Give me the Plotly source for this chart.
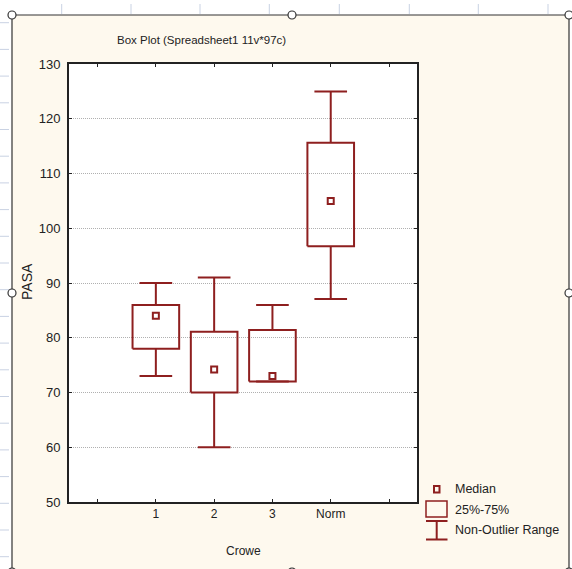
import plotly.graph_objects as go

# ---- data ----
categories = ["1", "2", "3", "Norm"]
q1 = [78.0, 70.0, 72.0, 96.7]
medians = [84.0, 74.2, 73.0, 105.0]
q3 = [86.0, 81.1, 81.4, 115.6]
lower = [73.0, 60.0, 72.0, 87.1]
upper = [90.0, 91.0, 86.0, 125.0]

tick_positions = [0, 1, 2, 3, 4, 5]
tick_labels = [""] + categories + [""]
y_ticks = [50, 60, 70, 80, 90, 100, 110, 120, 130]

# ---- style / layout constants ----
W, H = 572, 569
L, R, T, B = 69, 155, 64, 67
PW, PH = W - L - R, H - T - B
RED = "#8E1F1F"
CREAM = "#FEF9EE"
FONT = "Liberation Sans, Arial, sans-serif"
BOXW = 0.4
CAPW = 0.28


def px(x):
    return (x - L) / PW


def py(y):
    return (H - B - y) / PH


fig = go.Figure()

# boxes
bx, by = [], []
for i, _ in enumerate(categories):
    c = i + 1
    bx += [c - BOXW, c + BOXW, c + BOXW, c - BOXW, c - BOXW, None]
    by += [q1[i], q1[i], q3[i], q3[i], q1[i], None]
fig.add_trace(go.Scatter(x=bx, y=by, mode="lines", line=dict(color=RED, width=2),
                         hoverinfo="skip", showlegend=False))

# whiskers and caps
wx, wy = [], []
for i, _ in enumerate(categories):
    c = i + 1
    wx += [c, c, None, c, c, None,
           c - CAPW, c + CAPW, None, c - CAPW, c + CAPW, None]
    wy += [q3[i], upper[i], None, q1[i], lower[i], None,
           upper[i], upper[i], None, lower[i], lower[i], None]
fig.add_trace(go.Scatter(x=wx, y=wy, mode="lines", line=dict(color=RED, width=2),
                         hoverinfo="skip", showlegend=False))

# medians
fig.add_trace(go.Scatter(x=[i + 1 for i in range(len(categories))], y=medians,
                         mode="markers",
                         marker=dict(symbol="square-open", size=6, color=RED,
                                     line=dict(width=2, color=RED)),
                         showlegend=False))

shapes = []
# cream panel with frame
shapes.append(dict(type="rect", xref="paper", yref="paper", layer="below",
                   x0=px(12), x1=px(569), y0=py(15), y1=py(575),
                   fillcolor=CREAM, line=dict(color="#333333", width=1.2)))
# white plotting area
shapes.append(dict(type="rect", xref="paper", yref="paper", layer="below",
                   x0=0, x1=1, y0=0, y1=1, fillcolor="white", line=dict(width=0)))
# background spreadsheet marks (decorative)
k = 0
while 22.7 + 26.7 * k < H:
    yy = 22.7 + 26.7 * k
    shapes.append(dict(type="line", xref="paper", yref="paper",
                       x0=px(0), x1=px(9), y0=py(yy), y1=py(yy),
                       line=dict(color="#C9D2E3", width=1)))
    k += 1
for xx in [61.7, 131, 200, 269.3, 339.3, 409.3, 478.3, 548]:
    shapes.append(dict(type="line", xref="paper", yref="paper",
                       x0=px(xx), x1=px(xx), y0=py(4), y1=py(14),
                       line=dict(color="#C9D2E3", width=1)))
# handles
for hx, hy in [(12, 15), (292, 15), (569, 15), (12, 293), (569, 293),
               (12, 572), (292, 572), (569, 572)]:
    shapes.append(dict(type="circle", xref="paper", yref="paper",
                       x0=px(hx - 4), x1=px(hx + 4), y0=py(hy - 4), y1=py(hy + 4),
                       fillcolor="white", line=dict(color="#333333", width=1.2)))

# custom legend symbols
shapes.append(dict(type="rect", xref="paper", yref="paper",
                   x0=px(434), x1=px(439.5), y0=py(486), y1=py(492.5),
                   fillcolor=CREAM, line=dict(color=RED, width=2)))
shapes.append(dict(type="rect", xref="paper", yref="paper",
                   x0=px(426), x1=px(447), y0=py(501), y1=py(517),
                   fillcolor=CREAM, line=dict(color=RED, width=1.5)))
shapes.append(dict(type="line", xref="paper", yref="paper",
                   x0=px(436.7), x1=px(436.7), y0=py(521), y1=py(539.5),
                   line=dict(color=RED, width=2)))
for cy in (521, 539.5):
    shapes.append(dict(type="line", xref="paper", yref="paper",
                       x0=px(426), x1=px(447.5), y0=py(cy), y1=py(cy),
                       line=dict(color=RED, width=2)))

annotations = [
    dict(text="Box Plot (Spreadsheet1 11v*97c)", x=px(201), y=py(40),
         font=dict(size=11.5, color="#222222")),
    dict(text="PASA", x=px(27), y=py(282), textangle=-90,
         font=dict(size=14, color="#222222")),
    dict(text="Crowe", x=px(243), y=py(551), font=dict(size=12, color="#222222")),
    dict(text="Median", x=px(453), y=py(489), xanchor="left",
         font=dict(size=12.5, color="#222222")),
    dict(text="25%-75%", x=px(453), y=py(510), xanchor="left",
         font=dict(size=12.5, color="#222222")),
    dict(text="Non-Outlier Range", x=px(453), y=py(530), xanchor="left",
         font=dict(size=12.5, color="#222222")),
]
for a in annotations:
    a.update(xref="paper", yref="paper", showarrow=False)
    a.setdefault("xanchor", "center")
    a.setdefault("yanchor", "middle")

fig.update_layout(
    width=W, height=H,
    margin=dict(l=L, r=R, t=T, b=B, pad=0),
    paper_bgcolor="white", plot_bgcolor="rgba(0,0,0,0)",
    font=dict(family=FONT, size=12, color="#222222"),
    showlegend=False,
    shapes=shapes, annotations=annotations,
    xaxis=dict(range=[-0.49, 5.48], tickmode="array", tickvals=tick_positions,
               ticktext=tick_labels, ticks="inside", ticklen=3, tickcolor="#222222",
               showgrid=False, zeroline=False, showline=True, linecolor="#222222",
               linewidth=2, mirror="ticks", tickfont=dict(size=12)),
    yaxis=dict(range=[50, 130], tickmode="array", tickvals=y_ticks,
               ticks="inside", ticklen=3, tickcolor="#222222",
               showgrid=True, gridcolor="#B0B0B0", griddash="1px,1px", gridwidth=1,
               zeroline=False, showline=True, linecolor="#222222", linewidth=2,
               mirror="ticks", tickfont=dict(size=13), ticklabelstandoff=4),
)

fig.write_html(
    "out.html",
    config={"displayModeBar": False},
    post_script="document.body.style.margin='0';document.body.style.overflow='hidden';",
)
